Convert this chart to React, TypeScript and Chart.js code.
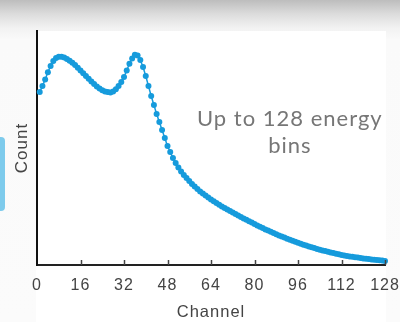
import React, { useEffect, useRef } from 'react';
import { Chart, registerables } from 'chart.js';

Chart.register(...registerables);

// Channel numbers (x categories)
const channels = [
  1, 2, 3, 4, 5, 6, 7, 8, 9, 10, 11, 12, 13, 14, 15, 16,
  17, 18, 19, 20, 21, 22, 23, 24, 25, 26, 27, 28, 29, 30, 31, 32,
  33, 34, 35, 36, 37, 38, 39, 40, 41, 42, 43, 44, 45, 46, 47, 48,
  49, 50, 51, 52, 53, 54, 55, 56, 57, 58, 59, 60, 61, 62, 63, 64,
  65, 66, 67, 68, 69, 70, 71, 72, 73, 74, 75, 76, 77, 78, 79, 80,
  81, 82, 83, 84, 85, 86, 87, 88, 89, 90, 91, 92, 93, 94, 95, 96,
  97, 98, 99, 100, 101, 102, 103, 104, 105, 106, 107, 108, 109, 110, 111, 112,
  113, 114, 115, 116, 117, 118, 119, 120, 121, 122, 123, 124, 125, 126, 127, 128,
];

// Counts per channel (arbitrary units)
const counts = [
  173, 179, 185.5, 192.7, 199, 204, 207, 208.2, 208.3, 207.4, 206, 204.2, 202.2, 199.9, 197.2, 194.5,
  191.8, 189.1, 186.3, 183.6, 180.9, 178.6, 176.4, 174.8, 173.5, 172.9, 172.6, 173.6, 175.8, 178.9, 183, 188,
  194.5, 201.3, 206.6, 210.2, 209.5, 205, 198, 189, 179, 169, 160, 151, 143, 135, 127, 119,
  113, 107, 102, 97.5, 93.5, 90, 87, 84, 81, 78.5, 76, 73.5, 71.5, 69.5, 67.5, 65.5,
  63.8, 62, 60.3, 58.6, 57, 55.5, 54, 52.5, 51, 49.5, 48, 46.6, 45.2, 43.8, 42.4, 41,
  39.6, 38.2, 36.9, 35.6, 34.4, 33.2, 32, 30.8, 29.6, 28.5, 27.4, 26.3, 25.2, 24.2, 23.2, 22.2,
  21.2, 20.3, 19.4, 18.5, 17.7, 16.9, 16.1, 15.3, 14.6, 13.9, 13.2, 12.5, 11.9, 11.3, 10.7, 10.1,
  9.6, 9.1, 8.6, 8.2, 7.8, 7.4, 7, 6.6, 6.2, 5.9, 5.6, 5.3, 5, 4.7, 4.4, 4.1,
];

const xTicks = [0, 16, 32, 48, 64, 80, 96, 112, 128];
const xTitle = 'Channel';
const yTitle = 'Count';
const noteLines = ['Up to 128 energy', 'bins'];

const BLUE = '#169bdc';
const TEXT = '#444444';
const TICK_FONT = { family: "'Liberation Sans', Arial, sans-serif", size: 16 };
const TITLE_FONT = { family: "'Liberation Sans', Arial, sans-serif", size: 16.5 };

const spacing = {
  id: 'spacing',
  beforeDraw(chart: any) {
    try {
      chart.ctx.letterSpacing = '1px';
    } catch (e) {}
  },
};

const tickMarks = {
  id: 'tickMarks',
  afterDraw(chart: any) {
    const { ctx, chartArea } = chart;
    const xs = chart.scales.x;
    ctx.save();
    ctx.strokeStyle = '#444';
    ctx.lineWidth = 1.5;
    xTicks.forEach((v) => {
      if (v === 0) return;
      const px = Math.round(xs.getPixelForValue(v)) + 0.5;
      ctx.beginPath();
      ctx.moveTo(px, chartArea.bottom);
      ctx.lineTo(px, chartArea.bottom - 5);
      ctx.stroke();
    });
    ctx.restore();
  },
};

const note = {
  id: 'note',
  afterDraw(chart: any) {
    const { ctx } = chart;
    const xs = chart.scales.x;
    const ys = chart.scales.y;
    ctx.save();
    ctx.font = "22px Lato, 'Open Sans', sans-serif";
    try {
      (ctx as any).letterSpacing = '1px';
    } catch (e) {}
    ctx.fillStyle = '#767676';
    ctx.textAlign = 'center';
    ctx.textBaseline = 'alphabetic';
    const cx = xs.getPixelForValue(93);
    ctx.fillText(noteLines[0], cx, ys.getPixelForValue(139));
    ctx.fillText(noteLines[1], cx, ys.getPixelForValue(112));
    ctx.restore();
  },
};

export default function App() {
  const ref = useRef<HTMLCanvasElement>(null);

  useEffect(() => {
    if (!ref.current) return;
    const chart = new Chart(ref.current, {
      type: 'line',
      data: {
        datasets: [
          {
            data: channels.map((c, i) => ({ x: c, y: counts[i] })),
            borderColor: BLUE,
            backgroundColor: BLUE,
            borderWidth: 1.5,
            pointRadius: 3,
            pointBorderWidth: 0,
            pointBackgroundColor: BLUE,
            tension: 0,
            clip: false as any,
          },
        ],
      },
      options: {
        animation: false,
        responsive: false,
        layout: { padding: { top: 31, right: 15, left: 0, bottom: 0 } },
        plugins: { legend: { display: false }, tooltip: { enabled: false } },
        scales: {
          x: {
            type: 'linear',
            min: 0,
            max: 128,
            afterBuildTicks: (s: any) => {
              s.ticks = xTicks.map((v) => ({ value: v }));
            },
            afterFit: (s: any) => {
              s.height = 57;
              s.paddingLeft = 0;
              s.paddingRight = 0;
            },
            grid: { display: true, drawOnChartArea: false, drawTicks: false },
            border: { display: true, color: '#222', width: 2 },
            ticks: {
              padding: 11,
              color: TEXT,
              font: TICK_FONT,
              maxRotation: 0,
              autoSkip: false,
            },
            title: {
              display: true,
              text: xTitle,
              color: TEXT,
              font: TITLE_FONT,
              padding: { top: 0, bottom: 0 },
            },
          },
          y: {
            min: 0,
            max: 234,
            afterFit: (s: any) => {
              s.width = 37;
              s.paddingTop = 0;
              s.paddingBottom = 0;
            },
            grid: { display: false },
            border: { display: true, color: '#111', width: 2 },
            ticks: { display: false },
            title: {
              display: true,
              text: yTitle,
              color: TEXT,
              font: { family: "'Liberation Sans', Arial, sans-serif", size: 17 },
              padding: { top: 12.5, bottom: 0 },
            },
          },
        },
      },
      plugins: [spacing, tickMarks, note],
    });
    return () => chart.destroy();
  }, []);

  return (
    <div
      style={{
        position: 'fixed',
        left: 0,
        top: 0,
        width: 400,
        height: 322,
        overflow: 'hidden',
        background:
          'linear-gradient(#bdbdbd 0px, #dcdcdc 14px, #f2f2f2 28px, #fafafa 40px, #fbfbfb 322px)',
      }}
    >
      <div
        style={{
          position: 'absolute',
          left: 36,
          top: 31,
          width: 350,
          height: 291,
          background: '#ffffff',
        }}
      />
      <div
        style={{
          position: 'absolute',
          left: -6,
          top: 137,
          width: 11,
          height: 74,
          borderRadius: 4,
          background: '#7ecbec',
        }}
      />
      <canvas
        ref={ref}
        width={400}
        height={322}
        style={{ position: 'absolute', left: 0, top: 0, width: 400, height: 322 }}
      />
    </div>
  );
}
